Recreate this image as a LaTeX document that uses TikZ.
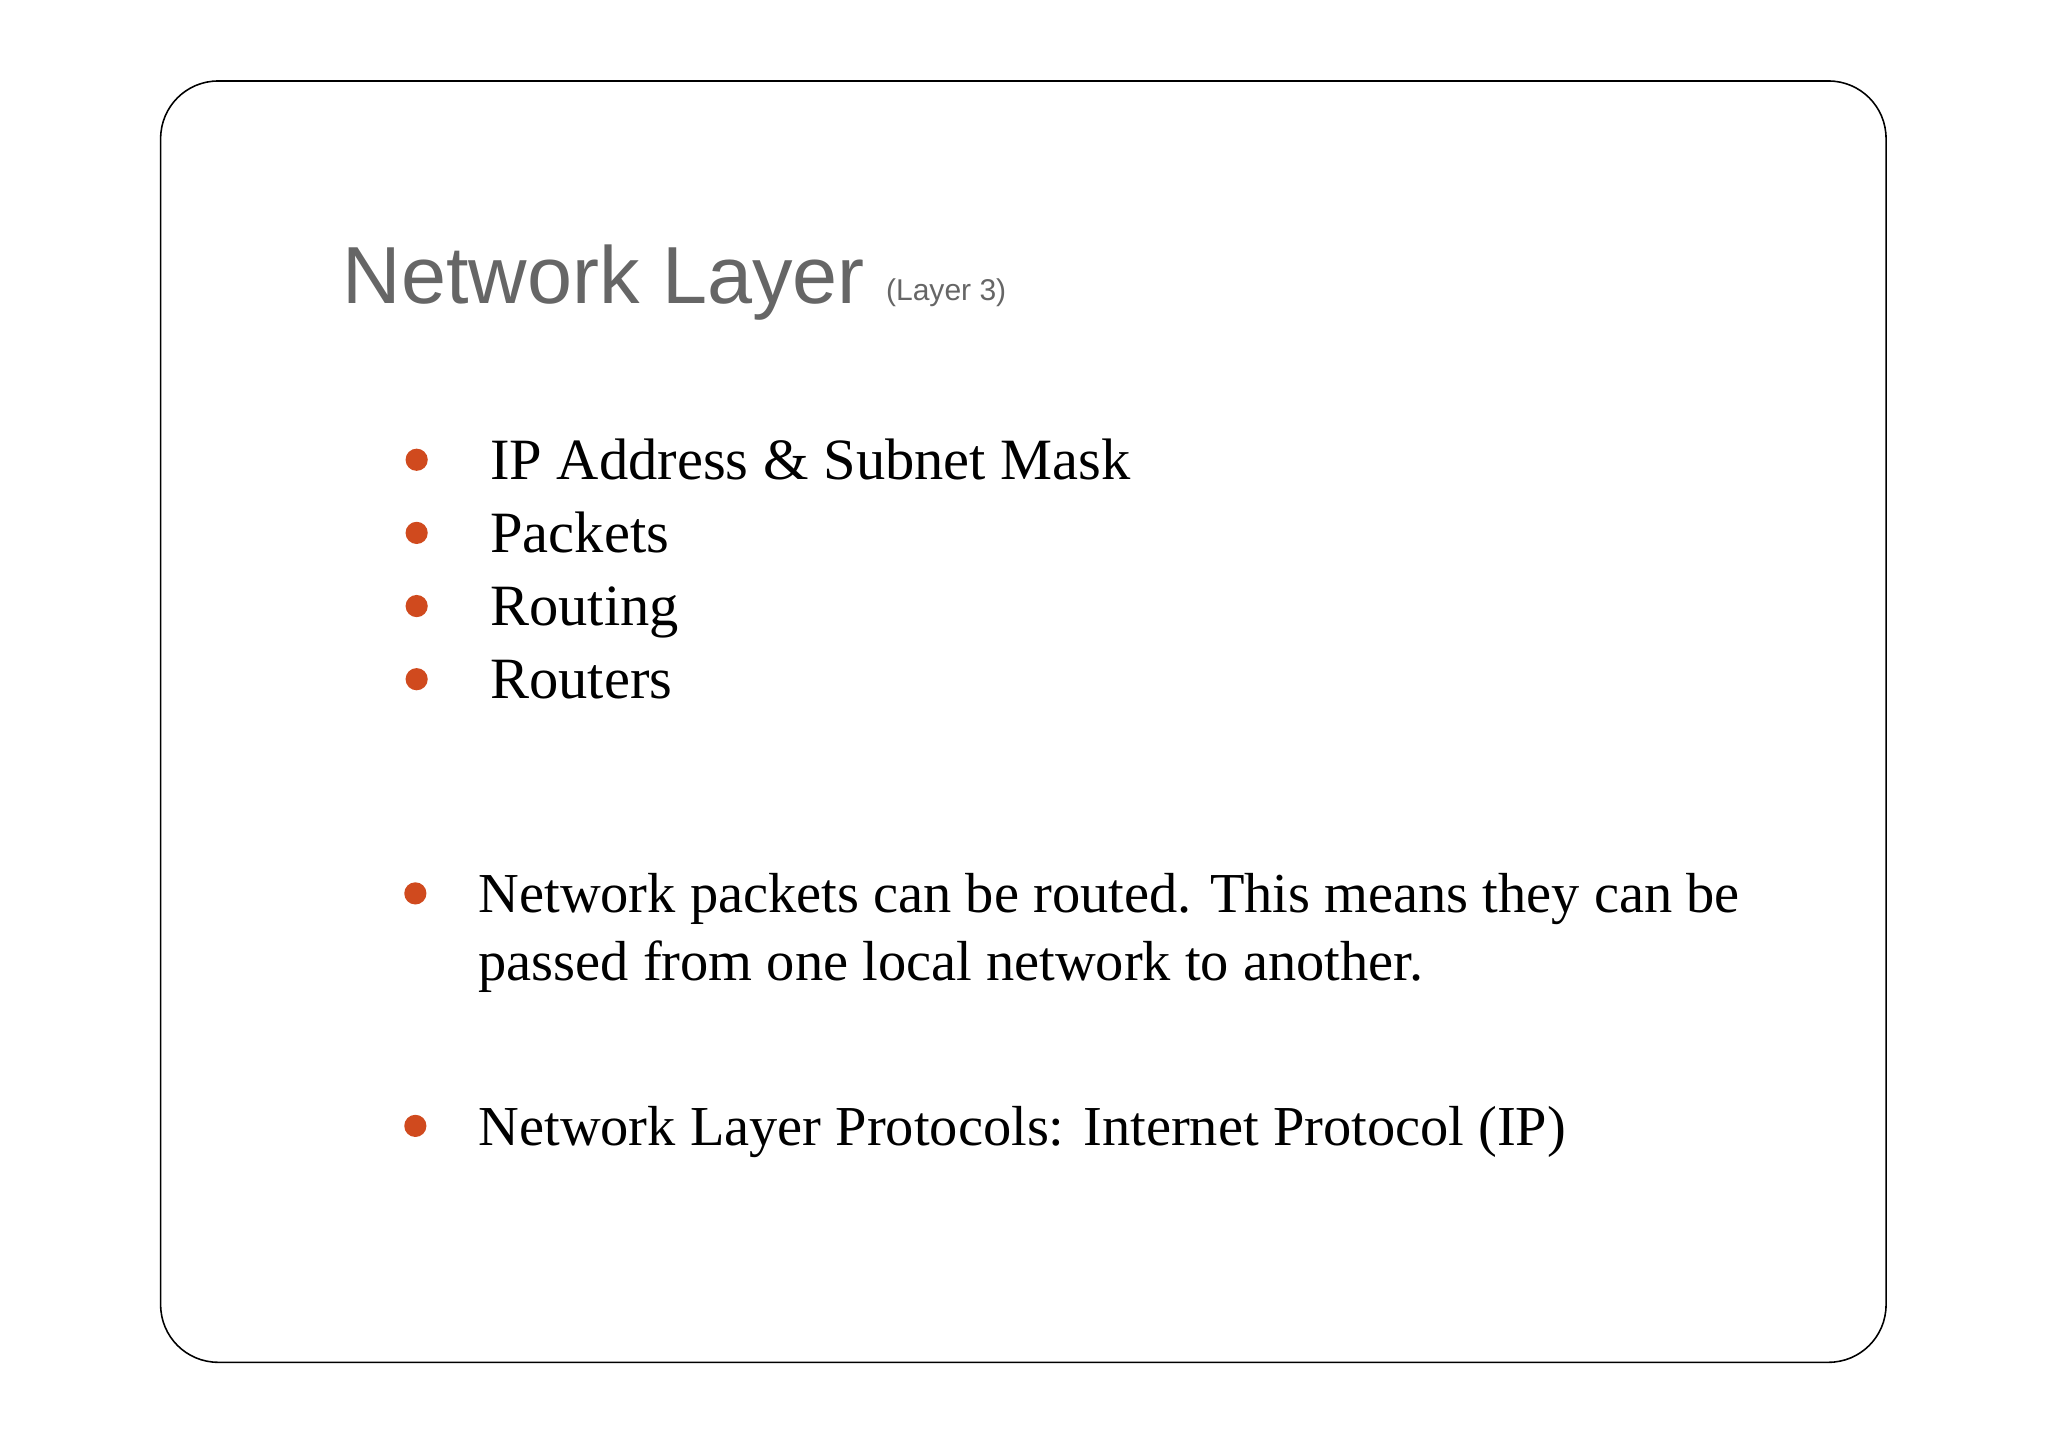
\documentclass[tikz,border=0pt]{standalone}
\usepackage{fontspec}
\setmainfont{Liberation Serif}
\setsansfont{Liberation Sans}
\definecolor{bul}{HTML}{D04A1E}
\definecolor{ttl}{HTML}{666666}
\begin{document}
\begin{tikzpicture}[x=0.5pt,y=-0.5pt,
  dotb/.style={circle,fill=bul,inner sep=0pt,minimum size=8.5pt},
  txt/.style={anchor=base west,inner sep=0pt,font=\fontsize{22.4}{26}\selectfont},
  txtb/.style={anchor=base west,inner sep=0pt,font=\fontsize{21.6}{26}\selectfont}]
\useasboundingbox (0,0) rectangle (1568,1108);
\draw[line width=0.6pt,rounded corners=22pt] (123,62) rectangle (1444,1043);
\node[anchor=base west,inner sep=0pt,text=ttl,font=\sffamily\fontsize{31}{38}\selectfont] (t) at (262,232) {Network Layer};
\node[anchor=base west,inner sep=0pt,text=ttl,font=\sffamily\fontsize{11.5}{14}\selectfont] (t2) at (678,230) {(Layer 3)};
\foreach \y/\s [count=\i] in {352/{IP Address \& Subnet Mask},408/Packets,464/Routing,520/Routers}{
  \node[dotb] (d\i) at (319,\y) {};
  \node[txt] (b\i) at (375,\y+15) {\s};
}
\node[dotb] (d5) at (318,684) {};
\node[txtb] (b5) at (366,699) {Network packets can be routed. This means they can be};
\node[txtb] (b5b) at (366,751) {passed from one local network to another.};
\node[dotb] (d6) at (318,862) {};
\node[txtb] (b6) at (366,877) {Network Layer Protocols: Internet Protocol (IP)};
\end{tikzpicture}
\end{document}
